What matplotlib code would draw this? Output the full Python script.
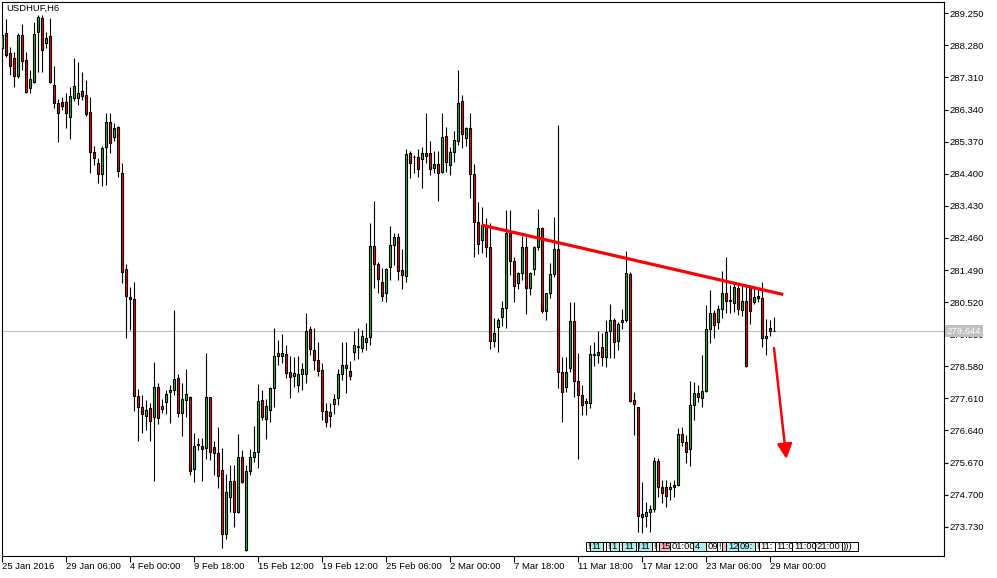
import numpy as np
import matplotlib as mpl
mpl.use('Agg')
import matplotlib.pyplot as plt
import matplotlib.transforms as mtransforms
from matplotlib.patches import Rectangle

plt.rcParams['font.family'] = ['Liberation Sans', 'DejaVu Sans']
FS = 6.8

# USDHUF H6 bars, 25 Jan 2016 00:00 .. 29 Mar 2016 06:00 (prices)
opens = [
    288.20, 288.64, 288.04, 287.89, 287.36, 288.59, 287.84, 286.98, 287.16, 288.68,
    289.10, 288.34, 288.56, 287.08, 286.53, 286.56, 286.56, 286.12, 286.70, 286.70,
    286.90, 286.78, 286.26, 285.07, 284.71, 284.38, 285.20, 285.95, 285.50, 285.80,
    284.43, 281.52, 280.68, 280.60, 277.68, 277.34, 277.09, 277.31, 277.05, 277.95,
    277.38, 277.49, 277.79, 277.86, 278.22, 277.16, 277.56, 277.66, 275.47, 276.20,
    276.18, 276.10, 277.64, 276.15, 275.95, 275.43, 273.52, 274.64, 275.11, 274.16,
    275.85, 273.03, 275.41, 275.85, 276.00, 277.56, 276.98, 277.25, 277.91, 278.89,
    278.90, 278.94, 278.40, 278.30, 278.01, 278.34, 278.34, 279.70, 279.07, 278.77,
    278.47, 277.24, 277.09, 277.43, 277.61, 278.34, 278.62, 278.45, 279.01, 279.15,
    279.12, 279.32, 279.45, 282.22, 281.66, 281.12, 280.79, 281.57, 282.25, 282.50,
    281.49, 281.32, 285.02, 284.92, 284.90, 284.84, 285.02, 285.02, 284.56, 284.69,
    284.46, 285.54, 284.66, 285.07, 285.40, 286.60, 285.47, 285.77, 284.38, 282.93,
    282.40, 282.85, 282.19, 279.35, 279.78, 280.07, 280.34, 282.60, 281.77, 281.09,
    281.39, 282.18, 280.94, 281.51, 282.19, 282.75, 280.26, 280.79, 281.37, 282.12,
    278.42, 277.96, 278.52, 279.96, 278.14, 277.71, 277.48, 277.48, 278.92, 278.92,
    279.17, 278.87, 279.65, 279.99, 279.35, 279.92, 279.99, 281.37, 277.56, 277.34,
    274.10, 274.06, 274.16, 274.26, 275.72, 274.92, 274.94, 274.86, 274.92, 274.99,
    276.53, 276.30, 276.07, 277.41, 277.76, 277.61, 277.84, 279.70, 280.18, 279.93,
    280.30, 280.79, 280.56, 280.48, 280.94, 280.28, 280.55, 280.94, 280.53, 280.70,
    280.63, 279.43, 279.73, 279.65,
]
highs = [
    288.65, 289.08, 288.24, 288.09, 288.65, 288.93, 288.09, 287.54, 288.98, 289.20,
    289.20, 288.68, 289.10, 287.67, 286.66, 286.73, 286.85, 287.01, 287.91, 287.79,
    287.48, 287.23, 286.71, 285.25, 284.87, 285.25, 286.23, 286.23, 285.92, 285.84,
    284.71, 281.67, 280.98, 281.12, 277.88, 277.71, 277.56, 277.46, 278.70, 278.07,
    277.58, 277.86, 278.01, 280.28, 278.34, 278.08, 278.50, 277.68, 276.55, 276.42,
    276.40, 278.97, 277.66, 276.32, 276.75, 276.10, 275.32, 275.59, 275.59, 276.53,
    276.05, 275.59, 276.07, 276.77, 278.04, 277.86, 277.58, 277.96, 279.73, 279.37,
    279.55, 279.22, 278.90, 278.87, 278.89, 278.67, 280.19, 279.80, 279.73, 279.32,
    278.67, 277.46, 277.46, 277.74, 278.50, 279.30, 279.30, 278.75, 279.65, 279.73,
    279.68, 279.88, 282.90, 283.58, 281.74, 281.54, 281.54, 282.82, 282.62, 282.62,
    282.12, 285.15, 285.10, 284.97, 285.14, 285.20, 286.23, 285.39, 285.09, 285.09,
    286.23, 285.80, 285.22, 285.69, 287.54, 286.78, 285.82, 286.25, 284.69, 283.54,
    283.40, 283.05, 282.90, 280.05, 280.04, 280.56, 283.30, 283.30, 281.89, 281.44,
    282.52, 282.50, 281.44, 282.22, 283.33, 282.78, 280.79, 281.69, 283.10, 285.87,
    278.87, 278.87, 280.53, 280.53, 278.97, 278.01, 277.63, 279.22, 279.30, 279.66,
    279.58, 279.98, 280.46, 280.03, 279.93, 280.30, 282.06, 281.44, 277.81, 277.36,
    275.09, 274.49, 274.39, 275.84, 275.80, 275.14, 275.14, 275.09, 275.14, 276.70,
    276.75, 276.50, 278.14, 278.11, 278.01, 278.92, 280.43, 280.89, 280.28, 280.43,
    281.46, 281.87, 281.04, 281.12, 281.04, 281.01, 281.01, 281.04, 281.01, 280.94,
    281.14, 280.00, 279.98, 280.06,
]
lows = [
    287.99, 287.92, 287.40, 287.03, 287.30, 287.54, 286.85, 286.85, 287.13, 287.48,
    287.48, 288.20, 287.13, 286.38, 285.37, 286.33, 285.79, 285.44, 286.60, 286.48,
    286.63, 286.15, 284.41, 284.65, 284.11, 284.03, 284.06, 285.02, 285.40, 284.31,
    281.09, 279.42, 279.68, 277.23, 276.33, 276.57, 276.65, 276.33, 275.12, 276.83,
    277.18, 277.13, 276.85, 277.70, 277.06, 276.48, 277.06, 275.29, 275.07, 276.05,
    275.12, 275.77, 275.75, 275.29, 274.91, 273.09, 273.37, 274.16, 273.71, 274.14,
    275.04, 273.00, 275.29, 275.69, 275.51, 276.96, 276.38, 276.90, 277.36, 278.62,
    278.67, 278.22, 277.63, 277.94, 277.81, 277.86, 278.07, 278.92, 278.47, 278.29,
    276.96, 276.75, 276.75, 277.13, 277.40, 278.16, 277.76, 278.15, 278.77, 278.80,
    279.01, 279.07, 279.22, 280.95, 280.79, 280.56, 280.51, 281.19, 281.64, 281.19,
    280.91, 281.12, 284.26, 284.43, 284.31, 283.96, 284.71, 284.36, 284.41, 283.59,
    284.43, 284.46, 284.36, 284.76, 285.28, 285.19, 285.24, 283.68, 281.89, 281.96,
    281.99, 281.89, 279.09, 279.17, 279.01, 279.80, 279.74, 281.34, 280.53, 280.91,
    281.19, 280.15, 280.73, 281.34, 282.09, 280.18, 279.98, 280.64, 281.29, 277.91,
    276.90, 277.80, 278.41, 277.66, 275.77, 277.11, 277.11, 277.31, 278.59, 278.67,
    278.59, 278.57, 278.82, 278.82, 279.07, 279.70, 279.92, 277.50, 276.50, 273.58,
    273.55, 273.73, 273.58, 274.17, 274.63, 274.44, 274.32, 274.54, 274.64, 274.95,
    276.17, 275.65, 275.56, 276.96, 277.50, 277.36, 277.80, 279.29, 279.43, 279.70,
    280.04, 280.20, 280.20, 280.23, 280.13, 280.11, 278.56, 279.86, 280.46, 280.52,
    279.15, 278.92, 279.49, 279.64,
]
closes = [
    288.60, 287.99, 287.67, 287.36, 288.59, 287.82, 286.86, 287.25, 288.62, 289.13,
    288.14, 288.49, 287.16, 286.53, 286.24, 286.46, 286.23, 286.75, 287.05, 286.85,
    286.76, 286.20, 285.07, 284.87, 284.38, 285.17, 285.95, 285.32, 285.77, 284.49,
    281.44, 280.71, 280.60, 277.68, 277.34, 277.13, 277.25, 276.93, 277.95, 277.01,
    277.28, 277.73, 277.86, 278.19, 277.16, 277.58, 277.73, 275.42, 276.17, 276.24,
    276.08, 277.64, 276.00, 275.95, 275.27, 273.52, 274.77, 275.11, 274.16, 275.83,
    275.09, 275.41, 275.85, 275.99, 277.53, 277.06, 277.38, 277.93, 278.89, 278.97,
    278.97, 278.38, 278.25, 278.37, 278.34, 278.50, 279.65, 279.09, 278.77, 278.44,
    277.24, 276.90, 277.21, 277.59, 278.35, 278.62, 278.52, 278.30, 279.22, 279.18,
    279.49, 279.43, 282.22, 281.66, 281.21, 280.70, 281.52, 282.25, 282.50, 281.47,
    281.34, 284.99, 284.71, 284.90, 284.53, 285.02, 284.94, 284.53, 284.69, 284.41,
    285.50, 284.76, 285.07, 285.42, 286.55, 285.59, 285.77, 284.38, 282.95, 282.27,
    282.85, 282.19, 279.35, 279.59, 279.98, 280.34, 282.62, 281.77, 281.01, 281.41,
    282.18, 280.94, 281.39, 282.19, 282.75, 280.26, 280.79, 281.37, 282.12, 278.42,
    277.81, 278.42, 279.96, 278.14, 277.71, 277.41, 277.54, 278.95, 278.95, 279.02,
    278.87, 279.62, 279.99, 279.30, 279.86, 279.98, 281.39, 277.54, 277.43, 274.06,
    274.03, 274.16, 274.26, 275.72, 274.92, 274.74, 274.67, 274.92, 274.99, 276.53,
    276.30, 276.00, 277.41, 277.76, 277.64, 277.84, 279.70, 280.18, 279.83, 280.30,
    280.79, 280.55, 280.58, 280.97, 280.30, 280.56, 278.59, 280.25, 280.68, 280.63,
    279.43, 279.50, 279.66, 279.644,
]

price_ticks = [289.25, 288.28, 287.31, 286.34, 285.37, 284.40, 283.43, 282.46, 281.49,
               280.52, 279.55, 278.58, 277.61, 276.64, 275.67, 274.70, 273.73]
time_tick_bars = [0, 16, 32, 48, 64, 80, 96, 112, 128, 144, 160, 176, 192]
time_labels = ['25 Jan 2016', '29 Jan 06:00', '4 Feb 00:00', '9 Feb 18:00', '15 Feb 12:00',
               '19 Feb 12:00', '25 Feb 06:00', '2 Mar 00:00', '7 Mar 18:00', '11 Mar 18:00',
               '17 Mar 12:00', '23 Mar 06:00', '29 Mar 00:00']
last_price = 279.644

# hand drawn objects (bar index, price)
trend_bars = [119.9, 195.3]
trend_prices = [282.85, 280.75]
arrow_from = (193.0, 279.13)
arrow_to = (196.1, 275.78)

# event markers along the bottom of the chart
ev_edges = [146.0, 147.0, 150.25, 151.0, 151.9, 154.25, 155.1, 158.5, 159.1, 162.4, 163.4,
            164.25, 167.0, 172.75, 176.0, 178.75, 179.9, 181.1, 184.0, 188.25, 189.25,
            193.25, 197.6, 203.25, 210.0, 214.0]
ev_text = ['!', '11', '', '!', '1', '!', '11', '!', '11', '!', '', '15', '01:00', '4', '09',
           '!', '', '12', '09:', '!', '11:', '11:0', '11:00', '21:00', ')))']
ev_kind = ['w', 'c', 'w', 'w', 'c', 'w', 'c', 'w', 'c', 'w', 'w', 'p', 'w', 'c', 'w',
           'w', 'p', 'c', 'c', 'w', 'w', 'w', 'w', 'w', 'w']
ev_colors = {'w': 'white', 'c': '#aeeeee', 'p': '#ffb6c1'}

o = np.array(opens)
h = np.array(highs)
l = np.array(lows)
c = np.array(closes)
idx = np.arange(len(o))

fig = plt.figure(figsize=(9.97, 5.78), dpi=100)
ax = fig.add_axes([2/997, 22/578, 942/997, 554/578])
ax.set_xlim(0, 235.5)
ax.set_ylim(272.844, 289.592)

ax.axhline(last_price, color='#c0c0c0', lw=0.8, zorder=1)

ax.vlines(idx, l, h, color='black', lw=0.8, zorder=2)
up = c >= o
body_col = np.where(up, '#22bb22', '#ff0000')
ax.bar(idx, np.abs(c - o), bottom=np.minimum(o, c), width=0.55, color=body_col,
       edgecolor='black', linewidth=0.8, zorder=3)

ax.plot(trend_bars, trend_prices, color='#ff0000', lw=2.3, solid_capstyle='butt', zorder=4)
ax.annotate('', xy=arrow_to, xytext=arrow_from,
            arrowprops=dict(arrowstyle='-|>,head_length=0.6,head_width=0.3',
                            color='#ff0000', lw=1.8, mutation_scale=15,
                            shrinkA=0, shrinkB=0), zorder=4)

# axes look
for sp in ax.spines.values():
    sp.set_linewidth(0.8)
    sp.set_color('black')
ax.yaxis.tick_right()
ax.set_yticks(price_ticks)
ax.set_yticklabels(['%.3f' % p for p in price_ticks])
ax.tick_params(axis='y', direction='out', length=3, width=0.8, pad=0.8, labelsize=FS)
ax.set_xticks(time_tick_bars)
ax.set_xticklabels(time_labels)
ax.tick_params(axis='x', direction='out', length=4, width=0.8, pad=0.6, labelsize=FS)
for lbl in ax.get_xticklabels():
    lbl.set_horizontalalignment('left')

ax.text(0.004, 0.988, 'USDHUF,H6', transform=ax.transAxes, ha='left', va='center',
        fontsize=FS, color='black')

# current price tag on the price scale
bt = mtransforms.blended_transform_factory(ax.transAxes, ax.transData)
ax.text(1.0025, last_price, '%.3f' % last_price, transform=bt, ha='left', va='center',
        fontsize=FS, color='white', clip_on=False, zorder=6,
        bbox=dict(boxstyle='square,pad=0.18', facecolor='#c0c0c0', edgecolor='none'))

# bottom event boxes
bx = mtransforms.blended_transform_factory(ax.transData, ax.transAxes)
for k in range(len(ev_text)):
    x0, x1 = ev_edges[k], ev_edges[k + 1]
    r = Rectangle((x0, 0.0096), x1 - x0, 0.0165, transform=bx, facecolor=ev_colors[ev_kind[k]],
                  edgecolor='black', lw=0.7, zorder=5)
    ax.add_patch(r)
    if ev_text[k]:
        t = ax.text(x0 + 0.35, 0.0178, ev_text[k], transform=bx, ha='left', va='center',
                    fontsize=FS, color='black', zorder=6)
        t.set_clip_path(r)

fig.savefig('out.png', dpi=100, facecolor='white')
